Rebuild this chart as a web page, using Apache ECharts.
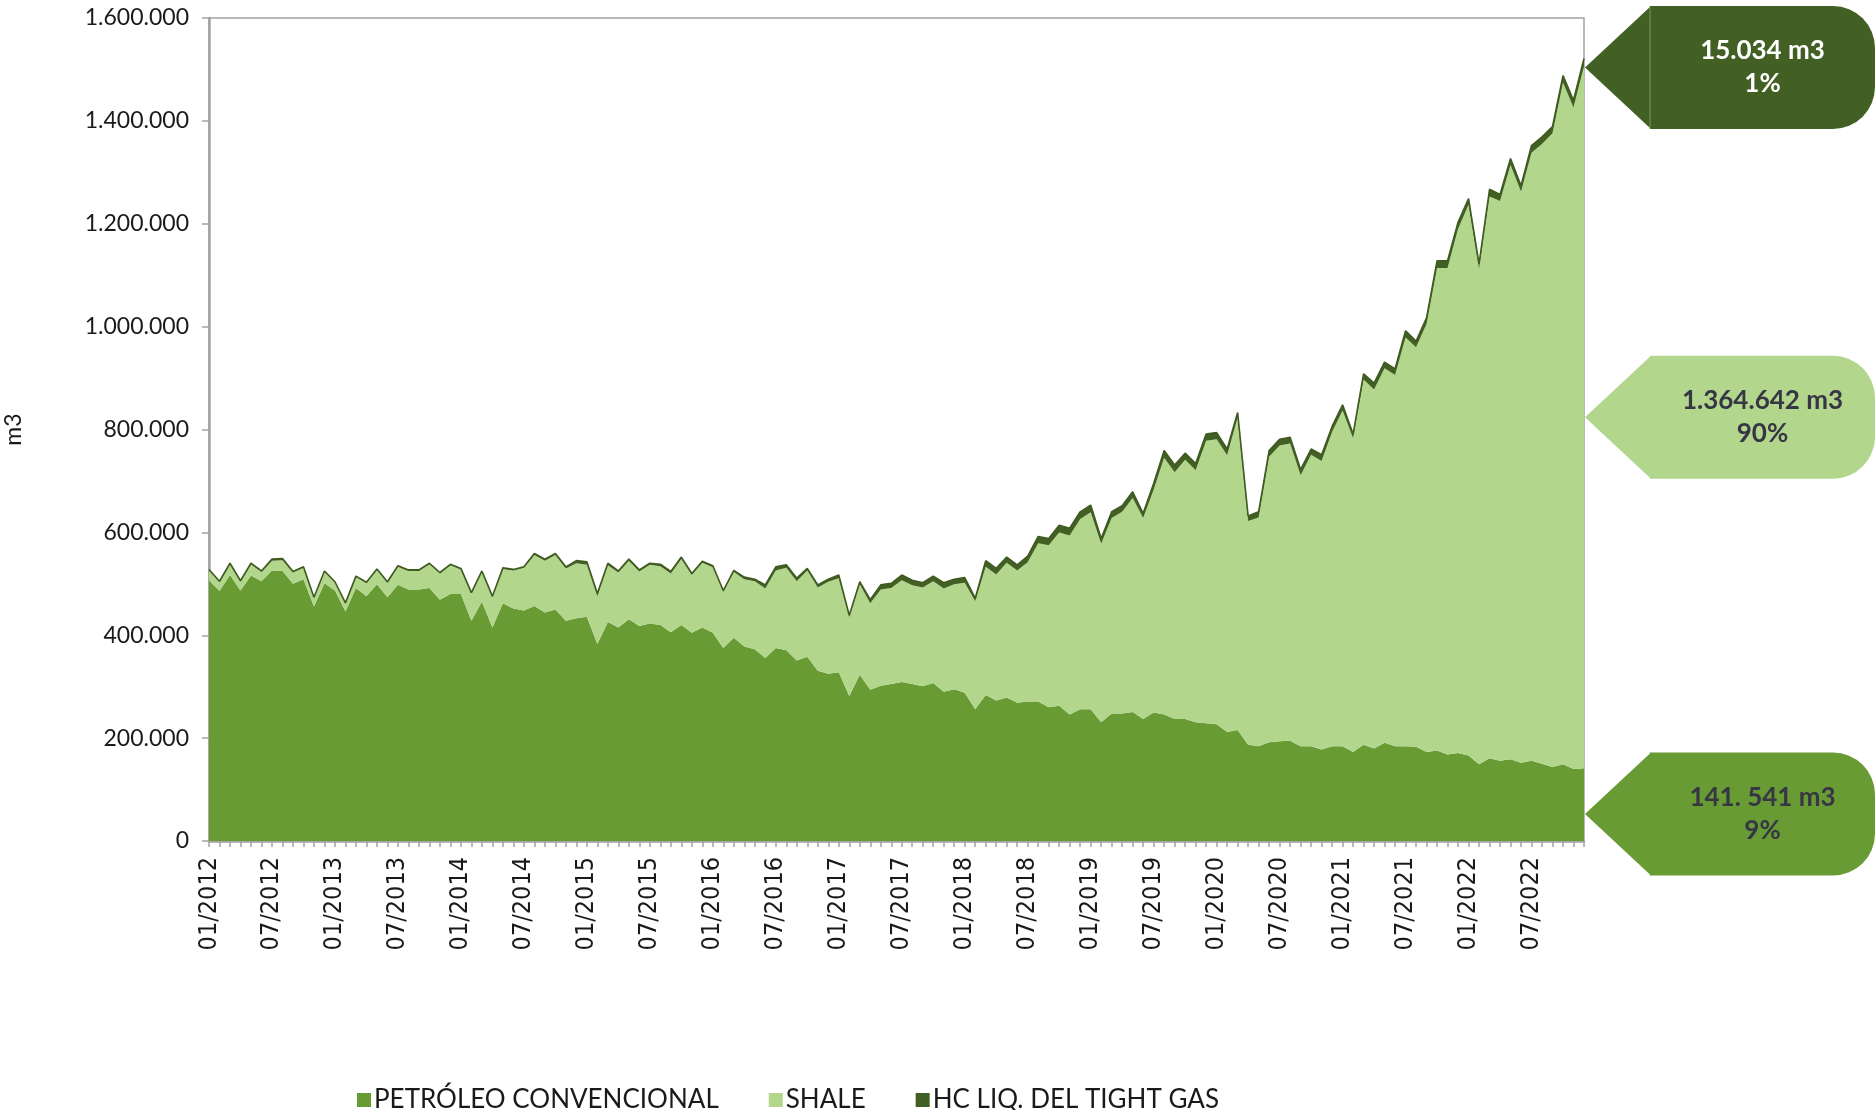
<!DOCTYPE html>
<html>
<head>
<meta charset="utf-8">
<script src="https://cdn.jsdelivr.net/npm/echarts/dist/echarts.min.js"></script>
<style>
html,body{margin:0;padding:0;background:#ffffff;}
#chart{width:1875px;height:1110px;}
</style>
</head>
<body>
<div id="chart"></div>
<script>
// ---------- DATA (m3, monthly 01/2012 – 12/2022) ----------
const years = [2012, 2013, 2014, 2015, 2016, 2017, 2018, 2019, 2020, 2021, 2022];
const monthLabels = ['01','02','03','04','05','06','07','08','09','10','11','12'];
const categories = [];
years.forEach(y => monthLabels.forEach(m => categories.push(m + '/' + y)));

const seriesNames = ['PETRÓLEO CONVENCIONAL', 'SHALE', 'HC LIQ. DEL TIGHT GAS'];

const convencional = [
  507000,486000,517000,487000,516000,505000,526000,525000,500000,509000,456000,501000,
  487000,446000,492000,476000,499000,474000,498000,489000,489000,492000,469000,480000,
  480000,428000,465000,415000,462000,452000,448000,457000,444000,450000,428000,433000,
  436000,383000,426000,415000,431000,418000,423000,420000,406000,420000,405000,415000,
  405000,375000,395000,378000,373000,356000,375000,371000,351000,358000,331000,325000,
  328000,282000,323000,294000,302000,305000,309000,305000,301000,307000,290000,295000,
  288000,256000,284000,273000,279000,269000,271000,271000,260000,263000,246000,256000,
  256000,231000,248000,248000,251000,237000,250000,246000,237000,237000,231000,229000,
  227000,212000,216000,187000,184000,192000,194000,195000,184000,184000,178000,184000,
  184000,173000,187000,180000,191000,184000,184000,183000,173000,176000,168000,171000,
  166000,149000,161000,156000,159000,152000,156000,150000,144000,149000,140000,141541
];

const shale = [
  19500,17500,21500,17500,22500,18000,19000,21000,22000,22000,16500,22500,
  15500,15500,21500,25500,28500,28000,35000,36000,36000,46000,51000,56000,
  48000,53000,58000,59000,67000,74000,83000,99000,101000,106000,102000,107000,
  101000,93000,110000,107000,114000,106000,114000,114000,114000,128000,112000,126000,
  127000,109000,128000,131000,132000,135000,151000,160000,154000,168000,162000,179000,
  183000,153000,176000,168000,187000,187000,198000,192000,192000,198000,201000,204000,
  214000,210000,249000,245000,262000,257000,271000,308000,315000,337000,348000,370000,
  383000,347000,380000,392000,416000,391000,433000,499000,480000,504000,490000,549000,
  554000,538000,607000,435000,445000,555000,575000,578000,527000,567000,561000,611000,
  653000,610000,710000,698000,728000,722000,795000,777000,832000,938000,946000,1019000,
  1071000,963000,1092000,1088000,1155000,1110000,1182000,1205000,1232000,1325000,1286000,1364642
];

const tightGas = [
  1500,1500,1500,1500,1500,2000,3000,3000,2000,2000,1500,1500,
  1500,1500,1500,1500,1500,2000,2000,2000,2000,2000,2000,2000,
  2000,2000,2000,2000,2000,2000,2000,3000,3000,3000,3000,5000,
  6000,5000,4000,3000,3000,3000,3000,4000,4000,4000,3000,3000,
  3000,3000,3000,4000,4000,7000,7000,6000,6000,4000,5000,5000,
  6000,4000,5000,7000,9000,9000,10000,10000,9000,10000,11000,10000,
  10000,6000,12000,12000,11000,11000,12000,13000,13000,14000,14000,14000,
  14000,10000,12000,12000,12000,9000,12000,14000,14000,13000,13000,13000,
  13000,12000,10000,10000,11000,12000,12000,12000,11000,11000,12000,11000,
  11000,8000,11000,12000,12000,12000,13000,12000,12000,14000,14000,13000,
  12000,10000,14000,13000,13000,12000,14000,14000,13000,14000,14000,15034
];

const yTicks = [0, 200000, 400000, 600000, 800000, 1000000, 1200000, 1400000, 1600000];
const calloutValueText = ['15.034 m3', '1.364.642 m3', '141. 541 m3'];

// ---------- STYLE ----------
const C_CONV = '#699B34';
const C_SHALE = '#B3D68D';
const C_TIGHT = '#436024';
const AXIS_GRAY = '#a3a3a3';

function fmtThousands(v) {
  return String(v).replace(/\B(?=(\d{3})+(?!\d))/g, '.');
}

const chart = echarts.init(document.getElementById('chart'), null, {renderer: 'canvas'});

const option = {
  animation: false,
  backgroundColor: '#ffffff',
  grid: {
    left: 209, top: 18, right: 291, bottom: 269,
    outerBoundsMode: 'none', containLabel: false,
    show: true, borderColor: AXIS_GRAY, borderWidth: 1.5, backgroundColor: 'transparent'
  },
  legend: {
    data: seriesNames,
    left: 352, top: 1082,
    icon: 'rect', itemWidth: 14, itemHeight: 14, itemGap: 50,
    textStyle: {fontFamily: 'Lato', fontSize: 26, color: '#1a1a1a', padding: [0, 0, 0, -2]}
  },
  xAxis: {
    type: 'category',
    data: categories,
    boundaryGap: false,
    axisLine: {show: true, lineStyle: {color: AXIS_GRAY, width: 2.5}},
    axisTick: {show: true, interval: 0, length: 6, lineStyle: {color: AXIS_GRAY, width: 1.5}},
    axisLabel: {
      interval: 5, rotate: 90, margin: 16,
      fontFamily: '"Liberation Sans Narrow", "DejaVu Sans Condensed", sans-serif',
      fontSize: 25, color: '#1a1a1a'
    },
    splitLine: {show: false}
  },
  yAxis: {
    type: 'value',
    min: yTicks[0], max: yTicks[yTicks.length - 1], interval: yTicks[1] - yTicks[0],
    name: 'm3', nameLocation: 'middle', nameGap: 184, nameRotate: 90,
    nameTextStyle: {fontFamily: 'Lato', fontSize: 23, color: '#1a1a1a'},
    axisLine: {show: true, lineStyle: {color: AXIS_GRAY, width: 2.5}},
    axisTick: {show: true, length: 7, lineStyle: {color: AXIS_GRAY, width: 1.5}},
    axisLabel: {
      formatter: v => fmtThousands(v), margin: 20,
      fontFamily: 'Lato', fontSize: 23, color: '#1a1a1a'
    },
    splitLine: {show: false}
  },
  series: [
    {
      name: seriesNames[0], type: 'line', stack: 'total', data: convencional,
      symbol: 'none', silent: true,
      lineStyle: {width: 0, opacity: 0},
      itemStyle: {color: C_CONV},
      areaStyle: {color: C_CONV, opacity: 1}
    },
    {
      name: seriesNames[1], type: 'line', stack: 'total', data: shale,
      symbol: 'none', silent: true,
      lineStyle: {width: 0, opacity: 0},
      itemStyle: {color: C_SHALE},
      areaStyle: {color: C_SHALE, opacity: 1}
    },
    {
      name: seriesNames[2], type: 'line', stack: 'total', data: tightGas,
      symbol: 'none', silent: true,
      lineStyle: {width: 1.6, color: '#3f5b20'},
      itemStyle: {color: C_TIGHT},
      areaStyle: {color: C_TIGHT, opacity: 1}
    }
  ]
};

chart.setOption(option);

// ---------- CALLOUTS (anchored to last data point) ----------
const last = categories.length - 1;
const cv = convencional[last], sh = shale[last], tg = tightGas[last];
const total = cv + sh + tg;
const pct = v => Math.round(v / total * 100) + '%';
const px = v => chart.convertToPixel({gridIndex: 0}, [last, v]);

const BOX_H = 123, TRI_W = 65, CANVAS_W = 1875;
const tipX = px(0)[0] + 1;
const callouts = [
  {y: px(total)[1], fill: C_TIGHT, textColor: '#ffffff', text: calloutValueText[0] + '\n' + pct(tg), divider: true},
  {y: px(cv + sh / 2)[1], fill: C_SHALE, textColor: '#363644', text: calloutValueText[1] + '\n' + pct(sh)},
  {y: px(cv * 0.37)[1], fill: C_CONV, textColor: '#363644', text: calloutValueText[2] + '\n' + pct(cv)}
];

const graphics = [];
callouts.forEach(c => {
  const cy = Math.max(c.y, BOX_H / 2 + 6);
  const baseX = tipX + TRI_W;
  const top = cy - BOX_H / 2;
  graphics.push({
    type: 'polygon', silent: true,
    shape: {points: [[tipX, cy], [baseX + 1, top], [baseX + 1, top + BOX_H]]},
    style: {fill: c.fill}
  });
  graphics.push({
    type: 'rect', silent: true,
    shape: {x: baseX, y: top, width: CANVAS_W - baseX, height: BOX_H, r: [0, 42, 42, 0]},
    style: {fill: c.fill}
  });
  if (c.divider) {
    graphics.push({
      type: 'line', silent: true,
      shape: {x1: baseX, y1: top, x2: baseX, y2: top + BOX_H},
      style: {stroke: '#7d9666', lineWidth: 1}
    });
  }
  graphics.push({
    type: 'text', silent: true,
    style: {
      text: c.text, x: (baseX + CANVAS_W) / 2, y: cy,
      align: 'center', verticalAlign: 'middle',
      font: 'bold 26px Lato', lineHeight: 33, fill: c.textColor
    }
  });
});
chart.setOption({graphic: graphics});
</script>
</body>
</html>
